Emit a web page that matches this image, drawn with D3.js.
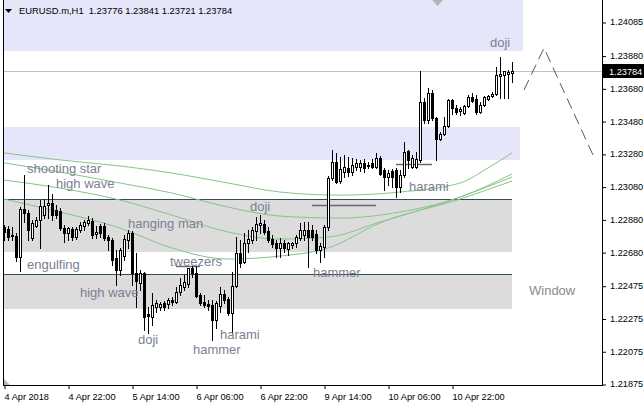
<!DOCTYPE html>
<html><head><meta charset="utf-8">
<script src="https://cdn.jsdelivr.net/npm/d3@7"></script>
<style>
html,body{margin:0;padding:0;background:#fff;}
svg{display:block;font-family:"Liberation Sans",Arial,sans-serif;}
</style></head><body>
<svg id="chart" width="644" height="407"></svg>
<script>
// ---------- DATA ----------
const symbol = "EURUSD.m,H1";
const open = [
1.22833,1.22821,1.22778,1.22778,1.22650,1.22943,1.22919,1.22766,1.22839,1.22876,
1.22906,1.22967,1.22980,1.22937,1.22931,1.22827,1.22797,1.22821,1.22772,1.22815,
1.22839,1.22858,1.22870,1.22791,1.22839,1.22839,1.22772,1.22754,1.22644,1.22571,
1.22656,1.22754,1.22797,1.22553,1.22492,1.22553,1.22303,1.22284,1.22345,1.22345,
1.22370,1.22364,1.22388,1.22376,1.22437,1.22467,1.22486,1.22583,1.22553,1.22418,
1.22376,1.22364,1.22357,1.22266,1.22351,1.22425,1.22394,1.22309,1.22473,1.22675,
1.22620,1.22736,1.22754,1.22809,1.22845,1.22852,1.22809,1.22760,1.22736,1.22705,
1.22736,1.22699,1.22723,1.22736,1.22766,1.22784,1.22815,1.22815,1.22791,1.22693,
1.22711,1.22833,1.23132,1.23231,1.23114,1.23169,1.23194,1.23169,1.23200,1.23200,
1.23225,1.23206,1.23225,1.23200,1.23255,1.23181,1.23138,1.23175,1.23181,1.23077,
1.23150,1.23298,1.23200,1.23200,1.23243,1.23597,1.23487,1.23652,1.23499,1.23371,
1.23402,1.23450,1.23609,1.23560,1.23542,1.23530,1.23572,1.23627,1.23615,1.23536,
1.23578,1.23615,1.23633,1.23646,1.23755,1.23761,1.23767,1.23776];
const high = [
1.22845,1.22839,1.22833,1.22797,1.22955,1.23150,1.22937,1.22876,1.22894,1.22998,
1.23004,1.23089,1.23035,1.22967,1.22949,1.22845,1.22833,1.22833,1.22833,1.22864,
1.22876,1.22900,1.22888,1.22839,1.22852,1.22858,1.22784,1.22766,1.22693,1.22705,
1.22784,1.22815,1.22809,1.22675,1.22571,1.22559,1.22345,1.22431,1.22388,1.22376,
1.22382,1.22400,1.22406,1.22467,1.22522,1.22540,1.22583,1.22595,1.22595,1.22431,
1.22418,1.22388,1.22388,1.22382,1.22467,1.22449,1.22406,1.22559,1.22772,1.22754,
1.22797,1.22815,1.22833,1.22894,1.22906,1.22876,1.22833,1.22784,1.22754,1.22766,
1.22754,1.22742,1.22742,1.22784,1.22858,1.22864,1.22864,1.22845,1.22815,1.22736,
1.22845,1.23144,1.23304,1.23286,1.23261,1.23273,1.23261,1.23255,1.23249,1.23243,
1.23249,1.23231,1.23249,1.23286,1.23267,1.23194,1.23181,1.23188,1.23194,1.23181,
1.23353,1.23304,1.23273,1.23292,1.23786,1.23621,1.23682,1.23670,1.23505,1.23414,
1.23505,1.23615,1.23615,1.23578,1.23566,1.23578,1.23639,1.23652,1.23639,1.23597,
1.23633,1.23639,1.23658,1.23810,1.23871,1.23786,1.23792,1.23841];
const low = [
1.22754,1.22754,1.22754,1.22626,1.22565,1.22864,1.22754,1.22754,1.22833,1.22705,
1.22888,1.22888,1.22876,1.22888,1.22815,1.22742,1.22754,1.22754,1.22760,1.22803,
1.22815,1.22845,1.22766,1.22766,1.22772,1.22754,1.22693,1.22601,1.22479,1.22540,
1.22632,1.22705,1.22479,1.22345,1.22449,1.22205,1.22187,1.22235,1.22315,1.22327,
1.22327,1.22339,1.22357,1.22370,1.22418,1.22449,1.22467,1.22528,1.22406,1.22357,
1.22345,1.22327,1.22144,1.22217,1.22315,1.22370,1.22296,1.22187,1.22467,1.22589,
1.22614,1.22681,1.22736,1.22754,1.22797,1.22791,1.22742,1.22711,1.22650,1.22650,
1.22681,1.22662,1.22705,1.22711,1.22754,1.22754,1.22589,1.22754,1.22675,1.22620,
1.22650,1.22815,1.23120,1.23102,1.23102,1.23138,1.23144,1.23150,1.23181,1.23175,
1.23169,1.23194,1.23194,1.23194,1.23150,1.23059,1.23089,1.23077,1.23016,1.23047,
1.23138,1.23194,1.23194,1.23194,1.23231,1.23469,1.23469,1.23487,1.23243,1.23365,
1.23395,1.23444,1.23524,1.23524,1.23517,1.23524,1.23566,1.23597,1.23524,1.23530,
1.23572,1.23609,1.23627,1.23639,1.23621,1.23621,1.23621,1.23721];
const close = [
1.22803,1.22772,1.22784,1.22650,1.22943,1.22919,1.22815,1.22858,1.22876,1.22961,
1.22961,1.22980,1.22906,1.22906,1.22827,1.22797,1.22827,1.22772,1.22821,1.22845,
1.22864,1.22876,1.22784,1.22803,1.22797,1.22766,1.22754,1.22632,1.22571,1.22693,
1.22760,1.22797,1.22553,1.22504,1.22553,1.22284,1.22290,1.22357,1.22370,1.22364,
1.22345,1.22388,1.22376,1.22437,1.22479,1.22498,1.22583,1.22553,1.22412,1.22370,
1.22357,1.22351,1.22266,1.22370,1.22425,1.22388,1.22309,1.22473,1.22675,1.22614,
1.22736,1.22760,1.22815,1.22852,1.22858,1.22803,1.22754,1.22730,1.22705,1.22736,
1.22705,1.22736,1.22736,1.22772,1.22815,1.22815,1.22772,1.22772,1.22693,1.22717,
1.22833,1.23132,1.23231,1.23108,1.23188,1.23200,1.23169,1.23212,1.23225,1.23225,
1.23194,1.23212,1.23200,1.23255,1.23157,1.23138,1.23163,1.23138,1.23077,1.23150,
1.23292,1.23243,1.23255,1.23249,1.23597,1.23487,1.23652,1.23499,1.23371,1.23402,
1.23450,1.23609,1.23560,1.23536,1.23554,1.23572,1.23627,1.23603,1.23536,1.23578,
1.23627,1.23633,1.23646,1.23761,1.23767,1.23786,1.23780,1.23784];

// moving averages (bar index -> value)
const ma1Idx = [0,14,29,42,56,69,84,99,114,121,127];
const ma1Val = [1.23286,1.23243,1.23206,1.23163,1.23102,1.23047,1.23028,1.23047,1.23102,1.23194,1.23286];
const ma2Idx = [0,14,29,42,56,69,84,99,114,127];
const ma2Val = [1.23225,1.23169,1.23102,1.23041,1.22955,1.22900,1.22888,1.22925,1.23016,1.23157];
const ma3Idx = [0,14,29,42,56,69,81,94,114,127];
const ma3Val = [1.23120,1.23071,1.22998,1.22906,1.22803,1.22760,1.22772,1.22864,1.23016,1.23138];
const ma4Idx = [0,14,29,42,56,69,81,94,114,127];
const ma4Val = [1.23004,1.22925,1.22827,1.22705,1.22638,1.22656,1.22705,1.22858,1.23004,1.23114];

// zones: top price, bottom price, end bar
const zoneTop = [1.24250,1.23444,1.23004,1.22547];
const zoneBottom = [1.23908,1.23243,1.22681,1.22333];
const zoneEnd = [129.75,129,127,127];
const levelPrice = [1.23004,1.22547];
const levelEnd = [127,127];

// pattern lines
const patLinePrice = [1.22595,1.22967,1.23219];
const patLineFrom = [43,77,98];
const patLineTo = [49,93,107];

// projection zigzag
const projIdx = [130,135,147.25];
const projVal = [1.23670,1.23926,1.23273];

// pattern labels
const labelText = ["shooting star","high wave","engulfing","hanging man","high wave","doji","tweezers","hammer","harami","doji","hammer","harami","doji"];
const labelIdx  = [5.75,13,5.75,31,19,33.5,41.5,47.25,54,61.5,77.25,101.25,121.5];
const labelVal  = [1.23163,1.23071,1.22577,1.22827,1.22406,1.22120,1.22595,1.22058,1.22150,1.22931,1.22528,1.23053,1.23932];
const windowText = "Window", windowIdx = 131.25, windowVal = 1.22418;

// axes
const yTicks = [1.24085,1.23880,1.23680,1.23480,1.23280,1.23080,1.22880,1.22680,1.22475,1.22275,1.22075,1.21875];
const xTickIdx = [0,16,32,48,64,80,96,112];
const xTickLabels = ["4 Apr 2018","4 Apr 22:00","5 Apr 14:00","6 Apr 06:00","6 Apr 22:00","9 Apr 14:00","10 Apr 06:00","10 Apr 22:00"];
const lastPrice = 1.23784;

// ---------- DRAW ----------
const svg = d3.select("#chart");
const x = d3.scaleLinear().domain([0,127]).range([4,512]);
const y = d3.scaleLinear().domain([1.21875,1.24085]).range([384,22]);
const L = 3, R = 602, T = 0, B = 385;
const ry = v => Math.round(y(v));
const AXF = 9.2;

svg.append("rect").attr("width",644).attr("height",407).attr("fill","#fff");
svg.append("clipPath").attr("id","clip").append("rect").attr("x",L+1).attr("y",T).attr("width",R-L-1).attr("height",B-T);
const g = svg.append("g").attr("clip-path","url(#clip)");

const zoneFill = ["#e6e6fa","#e6e6fa","#dcdcdc","#dcdcdc"];
g.selectAll("rect.zone").data(zoneTop).join("rect").attr("class","zone")
  .attr("x",L).attr("y",(d,i)=>ry(d))
  .attr("width",(d,i)=>Math.round(x(zoneEnd[i]))-L)
  .attr("height",(d,i)=>ry(zoneBottom[i])-ry(d))
  .attr("fill",(d,i)=>zoneFill[i]);

g.selectAll("line.level").data(levelPrice).join("line").attr("class","level")
  .attr("x1",L).attr("x2",(d,i)=>Math.round(x(levelEnd[i])))
  .attr("y1",d=>ry(d)+0.5).attr("y2",d=>ry(d)+0.5)
  .attr("stroke","#2f4f4f").attr("stroke-width",1);

g.append("line").attr("x1",L).attr("x2",R).attr("y1",ry(lastPrice)+0.5).attr("y2",ry(lastPrice)+0.5)
  .attr("stroke","#c0c0c0").attr("stroke-width",1);

const maLine = d3.line().x(d=>x(d[0])).y(d=>y(d[1])).curve(d3.curveMonotoneX);
[[ma1Idx,ma1Val],[ma2Idx,ma2Val],[ma3Idx,ma3Val],[ma4Idx,ma4Val]].forEach(([ix,vv])=>{
  g.append("path").attr("d",maLine(ix.map((k,i)=>[k,vv[i]])))
    .attr("fill","none").attr("stroke","#88c488").attr("stroke-width",1);
});

g.selectAll("line.pat").data(patLinePrice).join("line").attr("class","pat")
  .attr("x1",(d,i)=>x(patLineFrom[i])).attr("x2",(d,i)=>x(patLineTo[i]))
  .attr("y1",d=>ry(d)+0.5).attr("y2",d=>ry(d)+0.5)
  .attr("stroke","#6a6a6a").attr("stroke-width",1.4);

// candles
const cg = g.append("g");
open.forEach((o,i)=>{
  const c = close[i], cx = Math.round(x(i));
  cg.append("rect").attr("x",cx).attr("y",ry(high[i])).attr("width",1).attr("height",ry(low[i])-ry(high[i])+1).attr("fill","#000");
  const top = ry(Math.max(o,c)), bot = ry(Math.min(o,c));
  cg.append("rect").attr("x",cx-1).attr("y",top).attr("width",3).attr("height",bot-top+1).attr("fill","#000");
  if (c > o && bot-top >= 2) {
    cg.append("rect").attr("x",cx).attr("y",top+1).attr("width",1).attr("height",bot-top-1).attr("fill","#fff");
  }
});

// labels
g.selectAll("text.pl").data(labelText).join("text").attr("class","pl")
  .attr("x",(d,i)=>x(labelIdx[i])).attr("y",(d,i)=>y(labelVal[i]))
  .attr("font-size",13).attr("fill","#7e7e92").text(d=>d);
g.append("text").attr("x",x(windowIdx)).attr("y",y(windowVal)).attr("font-size",13).attr("fill","#8a8a8a").text(windowText);

// projection
g.append("path").attr("d",d3.line().x(d=>x(d[0])).y(d=>y(d[1]))(projIdx.map((k,i)=>[k,projVal[i]])))
  .attr("fill","none").attr("stroke","#5a5a5a").attr("stroke-width",1).attr("stroke-dasharray","11,6");

// chart shift marker
const sx = Math.round(x(108.25));
svg.append("path").attr("d",`M${sx-5},0 L${sx+6},0 L${sx+0.5},6 Z`).attr("fill","#b4b4b4");
svg.append("path").attr("d",`M${L+1},${B-6} L${L+1},${B} L${L+7},${B} Z`).attr("fill","#b4b4b4");

// frame
svg.append("line").attr("x1",L+0.5).attr("x2",L+0.5).attr("y1",0).attr("y2",B+0.5).attr("stroke","#000");
svg.append("line").attr("x1",R+0.5).attr("x2",R+0.5).attr("y1",0).attr("y2",B+0.5).attr("stroke","#000");
svg.append("line").attr("x1",L).attr("x2",R+1).attr("y1",B+0.5).attr("y2",B+0.5).attr("stroke","#000");

// right axis
const ya = svg.append("g").attr("transform",`translate(${R+1},0)`)
  .call(d3.axisRight(y).tickValues(yTicks).tickSize(3).tickPadding(4).tickFormat(d3.format(".5f")));
ya.select(".domain").remove();
ya.selectAll("text").attr("font-size",AXF).attr("font-family","Liberation Sans, Arial, sans-serif").attr("fill","#000");
ya.selectAll("line").attr("stroke","#000").attr("transform","translate(0,0.5)");

// price tag
const py = ry(lastPrice);
svg.append("rect").attr("x",R+1).attr("y",py-7).attr("width",644-R-1).attr("height",14).attr("fill","#000");
svg.append("text").attr("x",R+7).attr("y",py+3.5).attr("font-size",AXF).attr("fill","#fff").text(d3.format(".5f")(lastPrice));

// bottom axis
const xa = svg.append("g").attr("transform",`translate(0,${B+1})`)
  .call(d3.axisBottom(x).tickValues(xTickIdx).tickSize(3).tickPadding(4).tickFormat((d,i)=>xTickLabels[i]));
xa.select(".domain").remove();
xa.selectAll("line").attr("stroke","#000").attr("transform","translate(0.5,0)");
xa.selectAll("text").attr("text-anchor","start").attr("font-size",AXF).attr("font-family","Liberation Sans, Arial, sans-serif").attr("fill","#000").attr("dx",0);

// title
svg.append("path").attr("d","M5,9 L12,9 L8.5,13 Z").attr("fill","#000");
svg.append("text").attr("x",19).attr("y",14).attr("font-size",9.4).attr("fill","#000")
  .style("white-space","pre")
  .text(`${symbol}  ${[open[127],high[127],low[127],close[127]].map(d3.format(".5f")).join(" ")}`);
</script>
</body></html>
